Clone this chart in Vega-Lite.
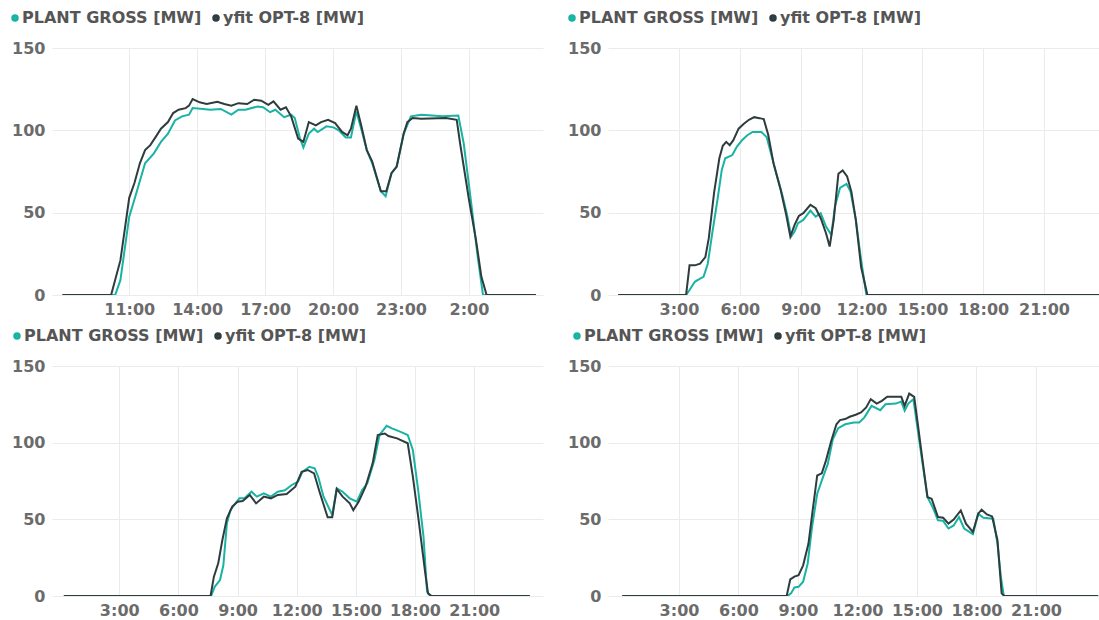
{
  "$schema": "https://vega.github.io/schema/vega-lite/v6.json",
  "padding": {"left": 7, "top": 10, "right": 0, "bottom": 0},
  "background": "white",
  "columns": 2,
  "spacing": {"column": 65, "row": 71},
  "bounds": "flush",
  "align": "each",
  "datasets": {
    "p1": [
      {"t": 8.05, "s": "g", "v": 0}, {"t": 10.38, "s": "g", "v": 0}, {"t": 10.61, "s": "g", "v": 9}, {"t": 11.0, "s": "g", "v": 47.6}, {"t": 11.23, "s": "g", "v": 58}, {"t": 11.7, "s": "g", "v": 80}, {"t": 12.09, "s": "g", "v": 86}, {"t": 12.4, "s": "g", "v": 93}, {"t": 12.71, "s": "g", "v": 98}, {"t": 13.02, "s": "g", "v": 106}, {"t": 13.33, "s": "g", "v": 108.5}, {"t": 13.64, "s": "g", "v": 109.5}, {"t": 13.8, "s": "g", "v": 113.5}, {"t": 14.26, "s": "g", "v": 113}, {"t": 14.58, "s": "g", "v": 112.5}, {"t": 15.04, "s": "g", "v": 113}, {"t": 15.51, "s": "g", "v": 109.5}, {"t": 15.82, "s": "g", "v": 112.5}, {"t": 16.13, "s": "g", "v": 112.5}, {"t": 16.67, "s": "g", "v": 114.5}, {"t": 16.91, "s": "g", "v": 114}, {"t": 17.22, "s": "g", "v": 111}, {"t": 17.45, "s": "g", "v": 112.5}, {"t": 17.84, "s": "g", "v": 108}, {"t": 18.15, "s": "g", "v": 109.5}, {"t": 18.31, "s": "g", "v": 107.5}, {"t": 18.54, "s": "g", "v": 95}, {"t": 18.69, "s": "g", "v": 89.6}, {"t": 18.93, "s": "g", "v": 98}, {"t": 19.16, "s": "g", "v": 101}, {"t": 19.32, "s": "g", "v": 99}, {"t": 19.71, "s": "g", "v": 102.4}, {"t": 20.02, "s": "g", "v": 101.8}, {"t": 20.25, "s": "g", "v": 100}, {"t": 20.56, "s": "g", "v": 95.7}, {"t": 20.79, "s": "g", "v": 95.7}, {"t": 21.03, "s": "g", "v": 111.5}, {"t": 21.26, "s": "g", "v": 100}, {"t": 21.49, "s": "g", "v": 88}, {"t": 21.73, "s": "g", "v": 80}, {"t": 22.11, "s": "g", "v": 63}, {"t": 22.32, "s": "g", "v": 60}, {"t": 22.58, "s": "g", "v": 74}, {"t": 22.81, "s": "g", "v": 78}, {"t": 23.12, "s": "g", "v": 98}, {"t": 23.44, "s": "g", "v": 108.5}, {"t": 23.9, "s": "g", "v": 109.5}, {"t": 24.37, "s": "g", "v": 109}, {"t": 24.83, "s": "g", "v": 108.5}, {"t": 25.53, "s": "g", "v": 109}, {"t": 25.77, "s": "g", "v": 92}, {"t": 26.08, "s": "g", "v": 58}, {"t": 26.39, "s": "g", "v": 23}, {"t": 26.62, "s": "g", "v": 0}, {"t": 28.96, "s": "g", "v": 0},
      {"t": 8.05, "s": "y", "v": 0}, {"t": 10.2, "s": "y", "v": 0}, {"t": 10.61, "s": "y", "v": 21}, {"t": 11.0, "s": "y", "v": 59}, {"t": 11.23, "s": "y", "v": 68}, {"t": 11.47, "s": "y", "v": 80}, {"t": 11.7, "s": "y", "v": 88}, {"t": 11.93, "s": "y", "v": 91}, {"t": 12.17, "s": "y", "v": 96}, {"t": 12.4, "s": "y", "v": 101}, {"t": 12.71, "s": "y", "v": 105}, {"t": 12.94, "s": "y", "v": 110.5}, {"t": 13.18, "s": "y", "v": 112.5}, {"t": 13.49, "s": "y", "v": 113.5}, {"t": 13.64, "s": "y", "v": 115}, {"t": 13.8, "s": "y", "v": 119}, {"t": 14.11, "s": "y", "v": 117}, {"t": 14.42, "s": "y", "v": 116}, {"t": 14.89, "s": "y", "v": 117.4}, {"t": 15.2, "s": "y", "v": 116}, {"t": 15.51, "s": "y", "v": 115}, {"t": 15.82, "s": "y", "v": 116.5}, {"t": 16.21, "s": "y", "v": 116}, {"t": 16.52, "s": "y", "v": 118.6}, {"t": 16.83, "s": "y", "v": 118}, {"t": 17.14, "s": "y", "v": 115.5}, {"t": 17.37, "s": "y", "v": 117.6}, {"t": 17.68, "s": "y", "v": 112.5}, {"t": 17.92, "s": "y", "v": 114}, {"t": 18.15, "s": "y", "v": 108.5}, {"t": 18.46, "s": "y", "v": 95}, {"t": 18.69, "s": "y", "v": 93}, {"t": 18.93, "s": "y", "v": 105}, {"t": 19.24, "s": "y", "v": 103}, {"t": 19.47, "s": "y", "v": 105}, {"t": 19.78, "s": "y", "v": 106.4}, {"t": 20.09, "s": "y", "v": 104.4}, {"t": 20.4, "s": "y", "v": 99}, {"t": 20.64, "s": "y", "v": 97}, {"t": 20.79, "s": "y", "v": 101}, {"t": 21.03, "s": "y", "v": 115}, {"t": 21.26, "s": "y", "v": 102}, {"t": 21.49, "s": "y", "v": 88}, {"t": 21.73, "s": "y", "v": 81}, {"t": 22.11, "s": "y", "v": 63}, {"t": 22.35, "s": "y", "v": 63}, {"t": 22.58, "s": "y", "v": 74}, {"t": 22.81, "s": "y", "v": 78}, {"t": 23.12, "s": "y", "v": 98}, {"t": 23.28, "s": "y", "v": 105}, {"t": 23.51, "s": "y", "v": 107.5}, {"t": 23.9, "s": "y", "v": 107}, {"t": 24.99, "s": "y", "v": 107.5}, {"t": 25.46, "s": "y", "v": 106.4}, {"t": 25.61, "s": "y", "v": 92}, {"t": 26.0, "s": "y", "v": 58}, {"t": 26.31, "s": "y", "v": 33.5}, {"t": 26.55, "s": "y", "v": 11}, {"t": 26.78, "s": "y", "v": 0}, {"t": 28.96, "s": "y", "v": 0}
    ],
    "p2": [
      {"t": 0, "s": "g", "v": 0}, {"t": 3.35, "s": "g", "v": 0}, {"t": 3.52, "s": "g", "v": 3}, {"t": 3.78, "s": "g", "v": 8}, {"t": 4.04, "s": "g", "v": 10}, {"t": 4.21, "s": "g", "v": 11}, {"t": 4.42, "s": "g", "v": 19}, {"t": 4.64, "s": "g", "v": 37.5}, {"t": 4.9, "s": "g", "v": 58}, {"t": 5.11, "s": "g", "v": 76}, {"t": 5.28, "s": "g", "v": 83}, {"t": 5.63, "s": "g", "v": 85}, {"t": 5.85, "s": "g", "v": 90}, {"t": 6.11, "s": "g", "v": 94}, {"t": 6.37, "s": "g", "v": 97}, {"t": 6.63, "s": "g", "v": 99}, {"t": 7.06, "s": "g", "v": 99}, {"t": 7.32, "s": "g", "v": 96}, {"t": 7.58, "s": "g", "v": 84}, {"t": 7.84, "s": "g", "v": 72}, {"t": 8.09, "s": "g", "v": 61}, {"t": 8.35, "s": "g", "v": 47.6}, {"t": 8.53, "s": "g", "v": 35.5}, {"t": 8.7, "s": "g", "v": 38.5}, {"t": 8.87, "s": "g", "v": 43.6}, {"t": 9.13, "s": "g", "v": 45.6}, {"t": 9.48, "s": "g", "v": 51.3}, {"t": 9.74, "s": "g", "v": 47.6}, {"t": 9.99, "s": "g", "v": 49.7}, {"t": 10.25, "s": "g", "v": 41.6}, {"t": 10.51, "s": "g", "v": 36.5}, {"t": 10.69, "s": "g", "v": 53.7}, {"t": 10.94, "s": "g", "v": 65}, {"t": 11.26, "s": "g", "v": 67.5}, {"t": 11.46, "s": "g", "v": 62.8}, {"t": 11.72, "s": "g", "v": 45.6}, {"t": 11.98, "s": "g", "v": 21.3}, {"t": 12.24, "s": "g", "v": 0}, {"t": 23.75, "s": "g", "v": 0},
      {"t": 0, "s": "y", "v": 0}, {"t": 3.35, "s": "y", "v": 0}, {"t": 3.52, "s": "y", "v": 18}, {"t": 3.78, "s": "y", "v": 18}, {"t": 4.04, "s": "y", "v": 19}, {"t": 4.3, "s": "y", "v": 23}, {"t": 4.47, "s": "y", "v": 34.5}, {"t": 4.73, "s": "y", "v": 62}, {"t": 4.99, "s": "y", "v": 83}, {"t": 5.16, "s": "y", "v": 90.6}, {"t": 5.33, "s": "y", "v": 93}, {"t": 5.5, "s": "y", "v": 91}, {"t": 5.68, "s": "y", "v": 94}, {"t": 5.94, "s": "y", "v": 101}, {"t": 6.2, "s": "y", "v": 104}, {"t": 6.45, "s": "y", "v": 106.4}, {"t": 6.71, "s": "y", "v": 108}, {"t": 6.97, "s": "y", "v": 107.4}, {"t": 7.18, "s": "y", "v": 106.8}, {"t": 7.4, "s": "y", "v": 97.3}, {"t": 7.66, "s": "y", "v": 80}, {"t": 8.01, "s": "y", "v": 64}, {"t": 8.27, "s": "y", "v": 49.7}, {"t": 8.49, "s": "y", "v": 35.5}, {"t": 8.7, "s": "y", "v": 42.6}, {"t": 8.91, "s": "y", "v": 48}, {"t": 9.13, "s": "y", "v": 49.7}, {"t": 9.48, "s": "y", "v": 54.7}, {"t": 9.74, "s": "y", "v": 52.7}, {"t": 9.99, "s": "y", "v": 46.6}, {"t": 10.25, "s": "y", "v": 37.5}, {"t": 10.43, "s": "y", "v": 29.4}, {"t": 10.63, "s": "y", "v": 45.6}, {"t": 10.86, "s": "y", "v": 73.6}, {"t": 11.07, "s": "y", "v": 75.6}, {"t": 11.29, "s": "y", "v": 72}, {"t": 11.5, "s": "y", "v": 62.8}, {"t": 11.72, "s": "y", "v": 45.6}, {"t": 11.98, "s": "y", "v": 17}, {"t": 12.29, "s": "y", "v": 0}, {"t": 23.75, "s": "y", "v": 0}
    ],
    "p3": [
      {"t": 0.19, "s": "g", "v": 0}, {"t": 7.66, "s": "g", "v": 0}, {"t": 7.84, "s": "g", "v": 6}, {"t": 8.11, "s": "g", "v": 10.4}, {"t": 8.28, "s": "g", "v": 20}, {"t": 8.46, "s": "g", "v": 47.4}, {"t": 8.64, "s": "g", "v": 56}, {"t": 8.87, "s": "g", "v": 60}, {"t": 9.09, "s": "g", "v": 63.7}, {"t": 9.35, "s": "g", "v": 63.7}, {"t": 9.71, "s": "g", "v": 68}, {"t": 9.98, "s": "g", "v": 64.8}, {"t": 10.33, "s": "g", "v": 67}, {"t": 10.69, "s": "g", "v": 64.8}, {"t": 11.04, "s": "g", "v": 68}, {"t": 11.4, "s": "g", "v": 69}, {"t": 11.75, "s": "g", "v": 72.4}, {"t": 12.07, "s": "g", "v": 74.6}, {"t": 12.29, "s": "g", "v": 81}, {"t": 12.64, "s": "g", "v": 84.3}, {"t": 12.91, "s": "g", "v": 83.3}, {"t": 13.09, "s": "g", "v": 77.8}, {"t": 13.36, "s": "g", "v": 64.8}, {"t": 13.8, "s": "g", "v": 52.8}, {"t": 14.03, "s": "g", "v": 70.2}, {"t": 14.33, "s": "g", "v": 68}, {"t": 14.69, "s": "g", "v": 63.7}, {"t": 15.05, "s": "g", "v": 61.5}, {"t": 15.31, "s": "g", "v": 69}, {"t": 15.58, "s": "g", "v": 73.5}, {"t": 15.94, "s": "g", "v": 88.7}, {"t": 16.2, "s": "g", "v": 105}, {"t": 16.56, "s": "g", "v": 111}, {"t": 16.83, "s": "g", "v": 109.3}, {"t": 17.27, "s": "g", "v": 107}, {"t": 17.63, "s": "g", "v": 105}, {"t": 17.89, "s": "g", "v": 95.2}, {"t": 18.16, "s": "g", "v": 69}, {"t": 18.43, "s": "g", "v": 38.7}, {"t": 18.61, "s": "g", "v": 2.8}, {"t": 18.78, "s": "g", "v": 0}, {"t": 23.82, "s": "g", "v": 0},
      {"t": 0.19, "s": "y", "v": 0}, {"t": 7.63, "s": "y", "v": 0}, {"t": 7.8, "s": "y", "v": 12.6}, {"t": 8.02, "s": "y", "v": 21.3}, {"t": 8.23, "s": "y", "v": 36.5}, {"t": 8.46, "s": "y", "v": 50.7}, {"t": 8.73, "s": "y", "v": 58.3}, {"t": 9.0, "s": "y", "v": 61.5}, {"t": 9.26, "s": "y", "v": 62}, {"t": 9.62, "s": "y", "v": 65.9}, {"t": 9.94, "s": "y", "v": 60.4}, {"t": 10.33, "s": "y", "v": 64.8}, {"t": 10.69, "s": "y", "v": 63.7}, {"t": 11.04, "s": "y", "v": 65.9}, {"t": 11.49, "s": "y", "v": 66.5}, {"t": 11.93, "s": "y", "v": 71.3}, {"t": 12.25, "s": "y", "v": 81}, {"t": 12.56, "s": "y", "v": 82.2}, {"t": 12.88, "s": "y", "v": 80}, {"t": 13.18, "s": "y", "v": 67}, {"t": 13.57, "s": "y", "v": 51.3}, {"t": 13.8, "s": "y", "v": 51.3}, {"t": 14.03, "s": "y", "v": 69.8}, {"t": 14.33, "s": "y", "v": 64.8}, {"t": 14.69, "s": "y", "v": 60.4}, {"t": 14.87, "s": "y", "v": 56}, {"t": 15.14, "s": "y", "v": 61.5}, {"t": 15.49, "s": "y", "v": 71.3}, {"t": 15.85, "s": "y", "v": 86.5}, {"t": 16.11, "s": "y", "v": 105}, {"t": 16.47, "s": "y", "v": 106}, {"t": 16.65, "s": "y", "v": 104.3}, {"t": 17.09, "s": "y", "v": 102.8}, {"t": 17.63, "s": "y", "v": 99.6}, {"t": 17.89, "s": "y", "v": 77.8}, {"t": 18.16, "s": "y", "v": 51.7}, {"t": 18.52, "s": "y", "v": 14.8}, {"t": 18.66, "s": "y", "v": 1.7}, {"t": 18.84, "s": "y", "v": 0}, {"t": 23.82, "s": "y", "v": 0}
    ],
    "p4": [
      {"t": 0.14, "s": "g", "v": 0}, {"t": 8.47, "s": "g", "v": 0}, {"t": 8.65, "s": "g", "v": 1.7}, {"t": 8.82, "s": "g", "v": 5.6}, {"t": 9.03, "s": "g", "v": 6}, {"t": 9.26, "s": "g", "v": 9.3}, {"t": 9.49, "s": "g", "v": 21.2}, {"t": 9.71, "s": "g", "v": 45}, {"t": 9.97, "s": "g", "v": 66.7}, {"t": 10.23, "s": "g", "v": 76.4}, {"t": 10.5, "s": "g", "v": 86}, {"t": 10.76, "s": "g", "v": 102.4}, {"t": 11.03, "s": "g", "v": 109.5}, {"t": 11.38, "s": "g", "v": 112}, {"t": 11.82, "s": "g", "v": 113.2}, {"t": 12.09, "s": "g", "v": 113.2}, {"t": 12.35, "s": "g", "v": 116.5}, {"t": 12.71, "s": "g", "v": 124}, {"t": 13.15, "s": "g", "v": 121.2}, {"t": 13.41, "s": "g", "v": 125}, {"t": 13.94, "s": "g", "v": 125.5}, {"t": 14.21, "s": "g", "v": 126.8}, {"t": 14.38, "s": "g", "v": 120.8}, {"t": 14.56, "s": "g", "v": 125.5}, {"t": 14.82, "s": "g", "v": 128.4}, {"t": 15.0, "s": "g", "v": 112}, {"t": 15.26, "s": "g", "v": 88.3}, {"t": 15.53, "s": "g", "v": 64.5}, {"t": 15.79, "s": "g", "v": 58}, {"t": 16.06, "s": "g", "v": 49.4}, {"t": 16.32, "s": "g", "v": 49}, {"t": 16.59, "s": "g", "v": 44}, {"t": 16.85, "s": "g", "v": 46}, {"t": 17.12, "s": "g", "v": 51.5}, {"t": 17.38, "s": "g", "v": 44}, {"t": 17.82, "s": "g", "v": 40.3}, {"t": 18.09, "s": "g", "v": 53.7}, {"t": 18.35, "s": "g", "v": 51}, {"t": 18.85, "s": "g", "v": 50.4}, {"t": 19.06, "s": "g", "v": 34.2}, {"t": 19.23, "s": "g", "v": 12.6}, {"t": 19.38, "s": "g", "v": 0}, {"t": 24.14, "s": "g", "v": 0},
      {"t": 0.14, "s": "y", "v": 0}, {"t": 8.43, "s": "y", "v": 0}, {"t": 8.61, "s": "y", "v": 10.8}, {"t": 8.82, "s": "y", "v": 12.6}, {"t": 9.03, "s": "y", "v": 13.6}, {"t": 9.26, "s": "y", "v": 20}, {"t": 9.53, "s": "y", "v": 34.2}, {"t": 9.74, "s": "y", "v": 55.8}, {"t": 9.97, "s": "y", "v": 78.6}, {"t": 10.2, "s": "y", "v": 80}, {"t": 10.41, "s": "y", "v": 88.3}, {"t": 10.68, "s": "y", "v": 101.3}, {"t": 10.94, "s": "y", "v": 112}, {"t": 11.12, "s": "y", "v": 114.7}, {"t": 11.38, "s": "y", "v": 115.4}, {"t": 11.61, "s": "y", "v": 116.9}, {"t": 11.91, "s": "y", "v": 118.2}, {"t": 12.18, "s": "y", "v": 119.7}, {"t": 12.44, "s": "y", "v": 123}, {"t": 12.67, "s": "y", "v": 128.4}, {"t": 12.97, "s": "y", "v": 125.5}, {"t": 13.23, "s": "y", "v": 127.3}, {"t": 13.5, "s": "y", "v": 129.9}, {"t": 13.85, "s": "y", "v": 129.9}, {"t": 14.21, "s": "y", "v": 129.9}, {"t": 14.38, "s": "y", "v": 124}, {"t": 14.61, "s": "y", "v": 132}, {"t": 14.86, "s": "y", "v": 129.9}, {"t": 15.0, "s": "y", "v": 116.5}, {"t": 15.26, "s": "y", "v": 90.5}, {"t": 15.53, "s": "y", "v": 64.5}, {"t": 15.74, "s": "y", "v": 63.4}, {"t": 16.06, "s": "y", "v": 51.5}, {"t": 16.32, "s": "y", "v": 51}, {"t": 16.59, "s": "y", "v": 47.2}, {"t": 16.85, "s": "y", "v": 49.8}, {"t": 17.21, "s": "y", "v": 55.8}, {"t": 17.47, "s": "y", "v": 47.2}, {"t": 17.82, "s": "y", "v": 41.8}, {"t": 18.09, "s": "y", "v": 53.7}, {"t": 18.26, "s": "y", "v": 56.3}, {"t": 18.53, "s": "y", "v": 53.2}, {"t": 18.79, "s": "y", "v": 51.9}, {"t": 19.06, "s": "y", "v": 36.4}, {"t": 19.27, "s": "y", "v": 1.7}, {"t": 19.41, "s": "y", "v": 0}, {"t": 24.14, "s": "y", "v": 0}
    ]
  },
  "concat": [
    {
      "width": 491, "height": 247,
      "data": {"name": "p1"},
      "mark": {"type": "line", "strokeWidth": 2, "clip": true},
      "encoding": {
        "x": {"field": "t", "type": "quantitative", "scale": {"domain": [7.59, 29.27], "nice": false, "zero": false}, "axis": {"values": [11, 14, 17, 20, 23, 26], "labelExpr": "(datum.value % 24) + ':00'"}},
        "y": {"field": "v", "type": "quantitative", "scale": {"domain": [0, 150], "nice": false}, "axis": {"values": [0, 50, 100, 150]}},
        "color": {"field": "s", "type": "nominal", "scale": {"domain": ["g", "y"], "range": ["#19b3a4", "#2e3c3e"]}, "legend": {"orient": "none", "legendX": -45, "legendY": -38, "direction": "horizontal", "title": null, "labelExpr": "datum.value == 'g' ? 'PLANT GROSS [MW]' : 'yfit OPT-8 [MW]'"}}
      }
    },
    {
      "width": 491, "height": 247,
      "data": {"name": "p2"},
      "mark": {"type": "line", "strokeWidth": 2, "clip": true},
      "encoding": {
        "x": {"field": "t", "type": "quantitative", "scale": {"domain": [-0.5, 23.71], "nice": false, "zero": false}, "axis": {"values": [3, 6, 9, 12, 15, 18, 21], "labelExpr": "datum.value + ':00'"}},
        "y": {"field": "v", "type": "quantitative", "scale": {"domain": [0, 150], "nice": false}, "axis": {"values": [0, 50, 100, 150]}},
        "color": {"field": "s", "type": "nominal", "scale": {"domain": ["g", "y"], "range": ["#19b3a4", "#2e3c3e"]}, "legend": {"orient": "none", "legendX": -44, "legendY": -38, "direction": "horizontal", "title": null, "labelExpr": "datum.value == 'g' ? 'PLANT GROSS [MW]' : 'yfit OPT-8 [MW]'"}}
      }
    },
    {
      "width": 491, "height": 230,
      "data": {"name": "p3"},
      "mark": {"type": "line", "strokeWidth": 2, "clip": true},
      "encoding": {
        "x": {"field": "t", "type": "quantitative", "scale": {"domain": [-0.41, 24.49], "nice": false, "zero": false}, "axis": {"values": [3, 6, 9, 12, 15, 18, 21], "labelExpr": "datum.value + ':00'"}},
        "y": {"field": "v", "type": "quantitative", "scale": {"domain": [0, 150], "nice": false}, "axis": {"values": [0, 50, 100, 150]}},
        "color": {"field": "s", "type": "nominal", "scale": {"domain": ["g", "y"], "range": ["#19b3a4", "#2e3c3e"]}, "legend": {"orient": "none", "legendX": -43, "legendY": -38, "direction": "horizontal", "title": null, "labelExpr": "datum.value == 'g' ? 'PLANT GROSS [MW]' : 'yfit OPT-8 [MW]'"}}
      }
    },
    {
      "width": 491, "height": 230,
      "data": {"name": "p4"},
      "mark": {"type": "line", "strokeWidth": 2, "clip": true},
      "encoding": {
        "x": {"field": "t", "type": "quantitative", "scale": {"domain": [-0.58, 24.18], "nice": false, "zero": false}, "axis": {"values": [3, 6, 9, 12, 15, 18, 21], "labelExpr": "datum.value + ':00'"}},
        "y": {"field": "v", "type": "quantitative", "scale": {"domain": [0, 150], "nice": false}, "axis": {"values": [0, 50, 100, 150]}},
        "color": {"field": "s", "type": "nominal", "scale": {"domain": ["g", "y"], "range": ["#19b3a4", "#2e3c3e"]}, "legend": {"orient": "none", "legendX": -39, "legendY": -38, "direction": "horizontal", "title": null, "labelExpr": "datum.value == 'g' ? 'PLANT GROSS [MW]' : 'yfit OPT-8 [MW]'"}}
      }
    }
  ],
  "resolve": {"scale": {"x": "independent", "y": "independent", "color": "independent"}, "legend": {"color": "independent"}},
  "config": {
    "view": {"stroke": null},
    "font": "DejaVu Sans",
    "axis": {"title": null, "labelFont": "DejaVu Sans", "labelFontWeight": "bold", "labelFontSize": 16, "labelColor": "#6b6b6b", "gridColor": "#ebebeb", "gridWidth": 1, "domain": false, "ticks": false, "tickSize": 0, "labelOverlap": false, "labelFlush": false},
    "axisY": {"labelPadding": 7},
    "axisX": {"labelPadding": 6},
    "legend": {"symbolType": "circle", "symbolSize": 16, "symbolStrokeWidth": 3.5, "labelFont": "DejaVu Sans", "labelFontSize": 16, "labelFontWeight": "bold", "labelColor": "#555555", "labelOffset": -1, "columnPadding": 5, "labelLimit": 400, "padding": 0}
  }
}
